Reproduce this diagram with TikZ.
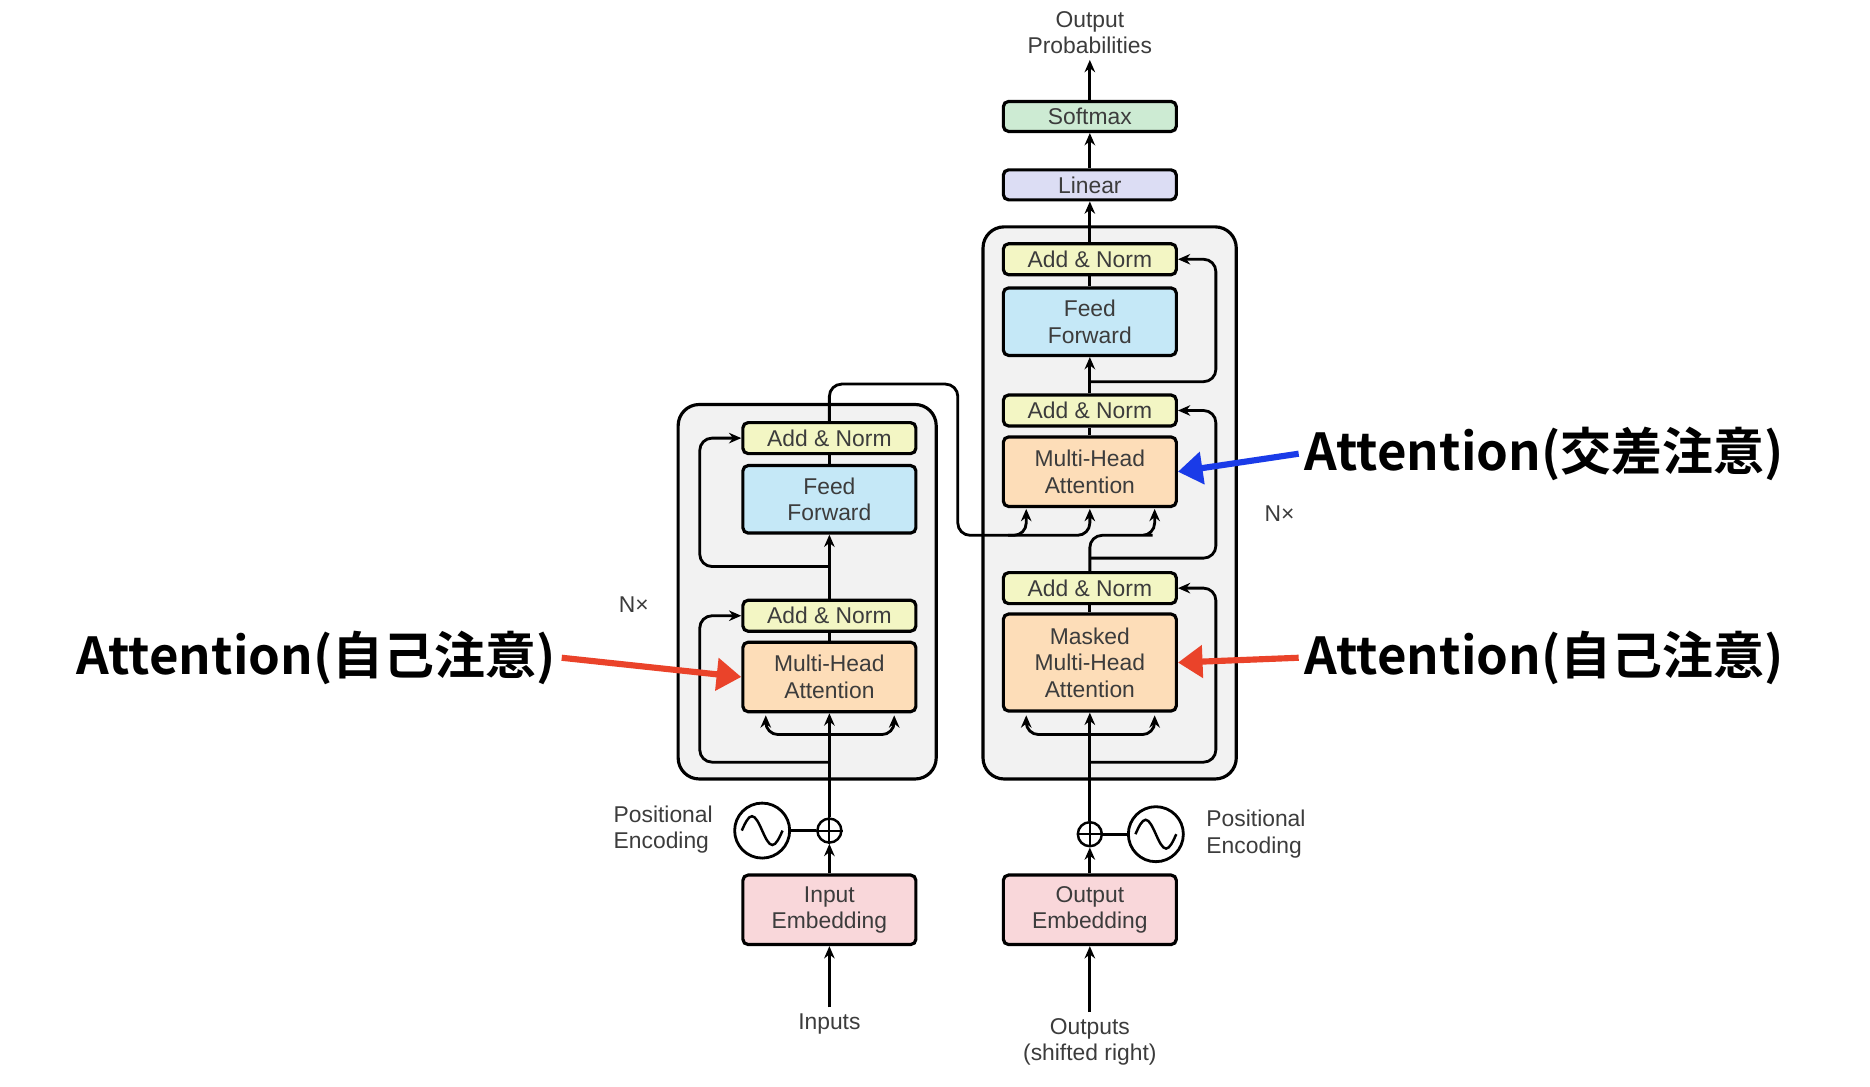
\documentclass[tikz,border=0pt]{standalone}
\usepackage{fontspec}
\setmainfont{Liberation Sans}
\newfontfamily\cjkbold[BoldFont={* Bold}]{Noto Sans CJK JP}
\usetikzlibrary{arrows.meta, positioning, calc}
\definecolor{addnorm}{RGB}{243,246,196}
\definecolor{ffblue}{RGB}{197,232,247}
\definecolor{mhapeach}{RGB}{253,221,184}
\definecolor{embpink}{RGB}{249,215,218}
\definecolor{linlav}{RGB}{220,221,244}
\definecolor{softgreen}{RGB}{205,235,211}
\definecolor{labred}{RGB}{234,67,42}
\definecolor{labblue}{RGB}{26,59,232}
\definecolor{txtgray}{RGB}{60,60,60}

\begin{document}
\begin{tikzpicture}[
        x=0.024cm, y=-0.024cm,
        font=\fontsize{13}{15}\selectfont, text=txtgray,
        blk/.style={draw, rounded corners=3pt, line width=1.8pt,
                    minimum width=3.46cm, align=center, inner sep=1pt},
        an/.style={blk, fill=addnorm, minimum height=0.62cm},
        ff/.style={blk, fill=ffblue, minimum height=1.35cm},
        mha/.style={blk, fill=mhapeach, minimum height=1.39cm},
        emb/.style={blk, fill=embpink, minimum height=1.39cm},
        wire/.style={line width=1.6pt, rounded corners=7pt},
        arr/.style={wire, -{Stealth[length=7pt,width=6pt]}},
        big/.style={font=\cjkbold\bfseries\fontsize{29}{32}\selectfont, text=black},
        callout/.style={line width=3.5pt, -{Triangle[length=14pt,width=18pt]}},
      ]
        \useasboundingbox (0,0) rectangle (1558,905);

        % outer boxes
        \draw[line width=1.8pt, rounded corners=12pt, fill=gray!10] (565,337) rectangle (780,649);
        \draw[line width=1.8pt, rounded corners=12pt, fill=gray!10] (819,189) rectangle (1030,649);

        % encoder
        \node[mha] (emha) at (691,564) {Multi-Head\\Attention};
        \node[an] (ean1) at (691,513) {Add \& Norm};
        \node[ff] (eff) at (691,416) {Feed\\Forward};
        \node[an] (ean2) at (691,365) {Add \& Norm};
        \node[emb] (inemb) at (691,758) {Input\\Embedding};
        \node (inputs) at (691,853) {Inputs};
        \node[draw, circle, line width=1.4pt, minimum size=0.48cm, inner sep=0pt] (eplus) at (691,692) {};
        \draw[line width=1.2pt] (eplus.north) -- (eplus.south) (eplus.west) -- (eplus.east);
        \node[draw, circle, line width=1.6pt, minimum size=1.1cm] (esine) at (635,692) {};
        \draw[line width=1.4pt] ($(esine)+(-17,0)$) sin ($(esine)+(-8.5,-12)$) cos (esine) sin ($(esine)+(8.5,12)$) cos ($(esine)+(17,0)$);
        \node[align=left, anchor=east] (epos) at (599,691) {Positional\\Encoding};
        \node (enx) at (528,504) {N\texttimes};

        % decoder
        \node[mha, minimum height=1.94cm] (dmmha) at (908,552) {Masked\\Multi-Head\\Attention};
        \node[an] (dan1) at (908,490) {Add \& Norm};
        \node[mha] (dmha) at (908,393) {Multi-Head\\Attention};
        \node[an] (dan2) at (908,342) {Add \& Norm};
        \node[ff] (dff) at (908,268) {Feed\\Forward};
        \node[an] (dan3) at (908,216) {Add \& Norm};
        \node[blk, fill=linlav, minimum height=0.6cm] (linear) at (908,154) {Linear};
        \node[blk, fill=softgreen, minimum height=0.6cm] (softmax) at (908,97) {Softmax};
        \node[align=center] (outprob) at (908,27) {Output\\Probabilities};
        \node[emb] (outemb) at (908,758) {Output\\Embedding};
        \node[align=center] (outputs) at (908,868) {Outputs\\(shifted right)};
        \node[draw, circle, line width=1.4pt, minimum size=0.48cm, inner sep=0pt] (dplus) at (908,695) {};
        \draw[line width=1.2pt] (dplus.north) -- (dplus.south) (dplus.west) -- (dplus.east);
        \node[draw, circle, line width=1.6pt, minimum size=1.1cm] (dsine) at (963,695) {};
        \draw[line width=1.4pt] ($(dsine)+(-17,0)$) sin ($(dsine)+(-8.5,-12)$) cos (dsine) sin ($(dsine)+(8.5,12)$) cos ($(dsine)+(17,0)$);
        \node[align=left, anchor=west] (dpos) at (1000,695) {Positional\\Encoding};
        \node (dnx) at (1066,428) {N\texttimes};

        % encoder wiring
        \draw[arr] (inputs.north) -- (inemb.south);
        \draw[arr] (inemb.north) -- (eplus.south);
        \draw[wire] (esine.east) -- (eplus.west);
        \draw[arr] (eplus.north) -- (emha.south);
        \draw[arr] (691,612) -| (638,596);
        \draw[arr] (691,612) -| (745,596);
        \draw[arr] (691,635) -| (583,513) -- (ean1.west);
        \draw[wire] (emha.north) -- (ean1.south);
        \draw[arr] (ean1.north) -- (eff.south);
        \draw[arr] (691,472) -| (583,365) -- (ean2.west);
        \draw[wire] (eff.north) -- (ean2.south);
        \draw[arr] (ean2.north) |- (798,320) -- (798,446) -| (855,424);
        \draw[arr] (840,446) -| (908,424);

        % decoder wiring
        \draw[arr] (outputs.north) -- (outemb.south);
        \draw[arr] (outemb.north) -- (dplus.south);
        \draw[wire] (dsine.west) -- (dplus.east);
        \draw[arr] (dplus.north) -- (dmmha.south);
        \draw[arr] (908,612) -| (855,596);
        \draw[arr] (908,612) -| (962,596);
        \draw[arr] (908,635) -| (1013,490) -- (dan1.east);
        \draw[wire] (dmmha.north) -- (dan1.south);
        \draw[arr] (dan1.north) |- (950,446) -| (962,424);
        \draw[arr] (908,465) -| (1013,342) -- (dan2.east);
        \draw[wire] (dmha.north) -- (dan2.south);
        \draw[arr] (dan2.north) -- (dff.south);
        \draw[arr] (908,318) -| (1013,216) -- (dan3.east);
        \draw[wire] (dff.north) -- (dan3.south);
        \draw[arr] (dan3.north) -- (linear.south);
        \draw[arr] (linear.north) -- (softmax.south);
        \draw[arr] (softmax.north) -- (outprob.south);

        % callouts
        \node[big, anchor=east] (lself) at (468,548) {Attention(自己注意)};
        \node[big, anchor=west] (rself) at (1082,548) {Attention(自己注意)};
        \node[big, anchor=west] (rcross) at (1082,378) {Attention(交差注意)};
        \draw[callout, labred] (lself.east) -- (emha.west);
        \draw[callout, labred] (rself.west) -- (dmmha.east);
        \draw[callout, labblue] (rcross.west) -- (dmha.east);
      \end{tikzpicture}
\end{document}
